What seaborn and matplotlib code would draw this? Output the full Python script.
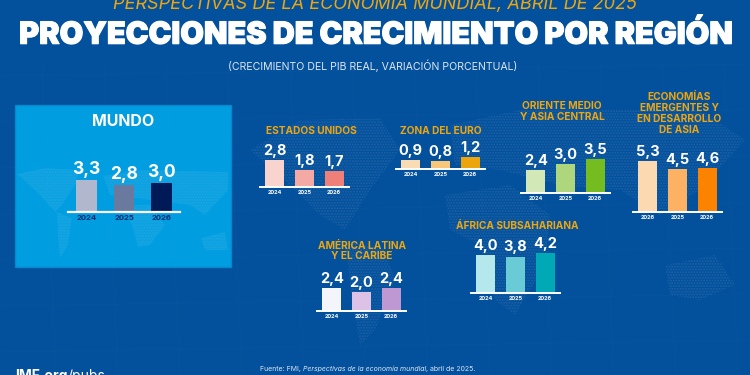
import matplotlib
matplotlib.use("Agg")
import matplotlib.pyplot as plt
import matplotlib.patheffects as pe
from matplotlib.patches import Rectangle, Polygon
import pandas as pd
import seaborn as sns

# ── Data ──────────────────────────────────────────────
YEARS = ["2024", "2025", "2026"]
YEARS_ASIA = ["2026", "2025", "2026"]  # as printed in the original
MUNDO = [3.3, 2.8, 3.0]
EEUU = [2.8, 1.8, 1.7]
EURO = [0.9, 0.8, 1.2]
ORIENTE = [2.4, 3.0, 3.5]
ASIA = [5.3, 4.5, 4.6]
LATAM = [2.4, 2.0, 2.4]
AFRICA = [4.0, 3.8, 4.2]

W, H = 750, 375
BG = "#03509c"
SKY = "#009de0"
GOLD = "#eea60f"
FONT = "Inter"
LABEL_SIZE = 7.3

sns.set_theme(style="white")
plt.rcParams["font.family"] = [FONT, "DejaVu Sans"]

fig = plt.figure(figsize=(W / 100, H / 100), dpi=100, facecolor=BG)


def px_text(x, y, s, **kw):
    # x, y in reference pixels, y from the top
    kw.setdefault("ha", "center")
    kw.setdefault("va", "center")
    return fig.text(x / W, 1 - y / H, s, **kw)


def run_text(x, y, parts, **kw):
    # several styled pieces on one line, each starts where the last one ended
    renderer = fig.canvas.get_renderer()
    for s, style in parts:
        t = px_text(x, y, s, ha="left", style=style, **kw)
        x = t.get_window_extent(renderer).x1


def label(x, y, s):
    px_text(x, y, s, color=GOLD, fontsize=LABEL_SIZE, fontweight="bold", linespacing=1.12)


def panel(values, years, colors, left, right, base, scale=9.6, bar=0.64, val_size=10.5,
          year_color="white", year_size=4, line_w=1.4):
    # axes bottom sits on the baseline, y limit keeps the same px-per-unit everywhere
    top = 60
    ax = fig.add_axes([left / W, 1 - base / H, (right - left) / W, top / H])
    ax.patch.set_alpha(0)
    df = pd.DataFrame({"year": range(3), "value": values})
    sns.barplot(data=df, x="year", y="value", hue="year", palette=colors, width=bar,
                legend=False, saturation=1, linewidth=0, edgecolor="none", ax=ax)
    ax.set_xlim(-0.5, 2.5)
    ax.set_ylim(0, top / scale)
    ax.set_xlabel("")
    ax.set_ylabel("")
    ax.set_yticks([])
    ax.set_xticks(range(3))
    ax.set_xticklabels(years, fontsize=year_size, color=year_color, fontweight="bold")
    ax.tick_params(axis="x", length=0, pad=2)
    sns.despine(ax=ax, left=True)
    ax.spines["bottom"].set_color("white")
    ax.spines["bottom"].set_linewidth(line_w)
    for i, v in enumerate(values):
        ax.annotate(f"{v:.1f}".replace(".", ","), (i, v), xytext=(0, 1.5),
                    textcoords="offset points", ha="center", va="bottom",
                    color="white", fontsize=val_size, fontweight="bold")
    return ax


# background layer in pixel coordinates
bg = fig.add_axes([0, 0, 1, 1])
bg.set_xlim(0, W)
bg.set_ylim(H, 0)
bg.axis("off")
for gx in range(-20, W + 60, 62):
    bg.plot([gx, gx + 14], [62, H], color="white", alpha=0.02, lw=0.6)
for gy in range(70, H, 46):
    bg.plot([0, W], [gy + 6, gy - 6], color="white", alpha=0.02, lw=0.6)

# faint stippled continents behind the regional panels
CONTINENTS = [
    [(250, 150), (300, 120), (380, 118), (400, 150), (370, 190), (345, 230), (320, 215), (285, 180)],
    [(345, 240), (385, 250), (395, 280), (375, 330), (360, 345), (352, 300)],
    [(450, 125), (520, 110), (700, 110), (745, 140), (700, 190), (660, 215), (620, 190), (560, 185), (500, 170), (455, 165)],
    [(445, 195), (510, 185), (550, 215), (545, 265), (515, 315), (495, 300), (480, 245), (450, 230)],
    [(665, 265), (715, 255), (735, 285), (700, 300), (670, 295)],
]
for pts in CONTINENTS:
    bg.add_patch(Polygon(pts, closed=True, fc="none", ec=(1, 1, 1, 0.1), lw=0, hatch="......"))

# world panel with its map
bg.add_patch(Rectangle((15, 105), 216, 162, fc=SKY, ec="#0a86cc", lw=1))
MUNDO_MAP = [
    [(17, 174), (45, 168), (80, 170), (75, 185), (62, 205), (55, 212), (40, 195)],
    [(57, 212), (72, 218), (68, 245), (60, 258), (58, 235)],
    [(103, 176), (140, 170), (228, 172), (228, 190), (205, 215), (190, 205), (150, 200), (110, 195)],
    [(122, 205), (150, 205), (165, 225), (150, 245), (138, 247), (132, 225)],
    [(201, 238), (225, 232), (228, 250), (205, 250)],
]
for pts in MUNDO_MAP:
    bg.add_patch(Polygon(pts, closed=True, fc=(1, 1, 1, 0.05), ec=(1, 1, 1, 0.06), lw=0, hatch="......"))

# titles
px_text(375, 3, "PERSPECTIVAS DE LA ECONOMÍA MUNDIAL, ABRIL DE 2025", color=GOLD,
        fontsize=13, style="italic")
px_text(375, 35, "PROYECCIONES DE CRECIMIENTO POR REGIÓN", color="white", fontsize=22,
        fontweight="black", path_effects=[pe.withStroke(linewidth=0.8, foreground="white")])
px_text(373, 66, "(CRECIMIENTO DEL PIB REAL, VARIACIÓN PORCENTUAL)", color="#dce6f2", fontsize=7.6)

# panels
panel(MUNDO, YEARS, ["#b1b7cc", "#6a7a9f", "#001a57"], 68, 180, 212, scale=9.7, bar=0.55,
      val_size=12.5, year_color="#052a6e", year_size=5.5, line_w=1.6)
px_text(123, 122, "MUNDO", color="white", fontsize=11.5, fontweight="bold")

panel(EEUU, YEARS, ["#f9d3cd", "#f4a9a5", "#ef8079"], 260, 349, 187)
label(311, 131, "ESTADOS UNIDOS")

panel(EURO, YEARS, ["#f9dcb3", "#f8c777", "#eca50c"], 396, 485, 169)
label(441, 131, "ZONA DEL EURO")

panel(ORIENTE, YEARS, ["#d3e8b7", "#aed67d", "#74bc1f"], 521, 610, 193)
label(562, 111.5, "ORIENTE MEDIO\nY ASIA CENTRAL")

panel(ASIA, YEARS_ASIA, ["#fcd9b0", "#fdb163", "#fc8300"], 633, 722, 212)
label(679, 113.5, "ECONOMÍAS\nEMERGENTES Y\nEN DESARROLLO\nDE ASIA")

panel(LATAM, YEARS, ["#f4f5fa", "#dcc2e6", "#bd98d3"], 317, 406, 311)
label(362, 251, "AMÉRICA LATINA\nY EL CARIBE")

panel(AFRICA, YEARS, ["#b5e8ec", "#68cbd6", "#00a9b5"], 471, 560, 293)
label(517, 226, "ÁFRICA SUBSAHARIANA")

# footer
run_text(260, 369, [("Fuente: FMI, ", "normal"), ("Perspectivas de la economía mundial", "italic"),
                    (", abril de 2025.", "normal")], color="#dce6f2", fontsize=5.0)
renderer = fig.canvas.get_renderer()
t = px_text(15, 376, "IMF.org", color="white", fontsize=10, fontweight="bold", ha="left")
px_text(t.get_window_extent(renderer).x1, 376, "/pubs", color="white", fontsize=10, ha="left")

fig.savefig("out.png", dpi=100, facecolor=BG)
